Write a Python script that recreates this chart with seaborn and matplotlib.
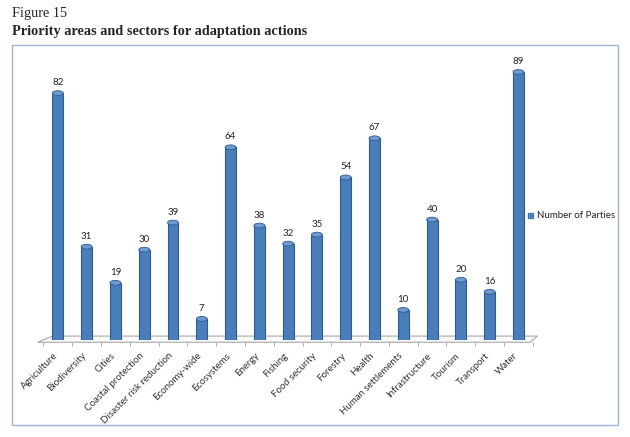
import pandas as pd
import seaborn as sns
import matplotlib.pyplot as plt
import matplotlib.transforms as mtransforms
from matplotlib.patches import Rectangle, Polygon, Ellipse

sns.set_theme(style="white")
plt.rcParams["font.family"] = ["Lato", "DejaVu Sans"]

sectors = [
    "Agriculture", "Biodiversity", "Cities", "Coastal protection",
    "Disaster risk reduction", "Economy-wide", "Ecosystems", "Energy",
    "Fishing", "Food security", "Forestry", "Health", "Human settlements",
    "Infrastructure", "Tourism", "Transport", "Water",
]
parties = [82, 31, 19, 30, 39, 7, 64, 38, 32, 35, 54, 67, 10, 40, 20, 16, 89]

df = pd.DataFrame({"sector": sectors, "parties": parties})

fig = plt.figure(figsize=(6.3, 4.37), dpi=100)
W, H = 630, 437

# chart frame
fig.patches.append(Rectangle((12 / W, 1 - 425 / H), 606 / W, 380 / H,
                             transform=fig.transFigure, fill=False,
                             edgecolor="#9db4d4", lw=1.0))

fig.text(12 / W, 1 - 14 / H, "Figure 15", family="Liberation Serif",
         fontsize=10.3, va="center", ha="left")
fig.text(12 / W, 1 - 32 / H, "Priority areas and sectors for adaptation actions",
         family="Liberation Serif", fontsize=10.3, weight="bold",
         va="center", ha="left")

XMIN, XMAX = -0.62, 16.75
ax = fig.add_axes([40 / W, 1 - 340 / H, 500 / W, 280 / H])
sns.barplot(data=df, x="sector", y="parties", color="#4a7ebb",
            edgecolor="#2f5b8f", linewidth=0.8, width=0.38, ax=ax,
            saturation=1, zorder=3)

# rounded cylinder tops
for p, v in zip(ax.patches, parties):
    cx = p.get_x() + p.get_width() / 2
    ax.add_patch(Ellipse((cx, v), p.get_width(), 1.6, facecolor="#6f9ad0",
                         edgecolor="#2f5b8f", lw=0.6, zorder=4))
    ax.text(cx, v + 2.0, str(v), ha="center", va="bottom", fontsize=7,
            color="#222222", zorder=5)

ax.set_xlim(XMIN, XMAX)
ax.set_ylim(0, 93)
ax.set_xlabel("")
ax.set_ylabel("")
ax.set_yticks([])
ax.tick_params(axis="x", length=0, pad=8)
shift = mtransforms.ScaledTranslation(-5 / 100, 0, fig.dpi_scale_trans)
for lbl in ax.get_xticklabels():
    lbl.set_rotation(45)
    lbl.set_ha("right")
    lbl.set_rotation_mode("anchor")
    lbl.set_fontsize(7)
    lbl.set_color("#333333")
    lbl.set_transform(lbl.get_transform() + shift)
sns.despine(ax=ax, left=True, bottom=True)

# floor plane
floor = Polygon([(-0.005, -0.008), (0.98, -0.008), (0.995, 0.014), (0.025, 0.014)],
                closed=True, transform=ax.transAxes, facecolor="#fafafa",
                edgecolor="#a8a8a8", lw=0.8, clip_on=False, zorder=1)
ax.add_patch(floor)
for i in range(len(sectors) + 1):
    xx = (i - 0.5 - XMIN) / (XMAX - XMIN)
    ax.plot([xx, xx], [-0.008, -0.02], transform=ax.transAxes, color="#a8a8a8",
            lw=0.6, clip_on=False)

# legend
fig.patches.append(Rectangle((528 / W, 1 - 217.5 / H), 5 / W, 5 / H,
                             transform=fig.transFigure, color="#4a7ebb"))
fig.text(537 / W, 1 - 215 / H, "Number of Parties", fontsize=7,
         va="center", ha="left", color="#222222")

fig.savefig("out.png", dpi=100)
